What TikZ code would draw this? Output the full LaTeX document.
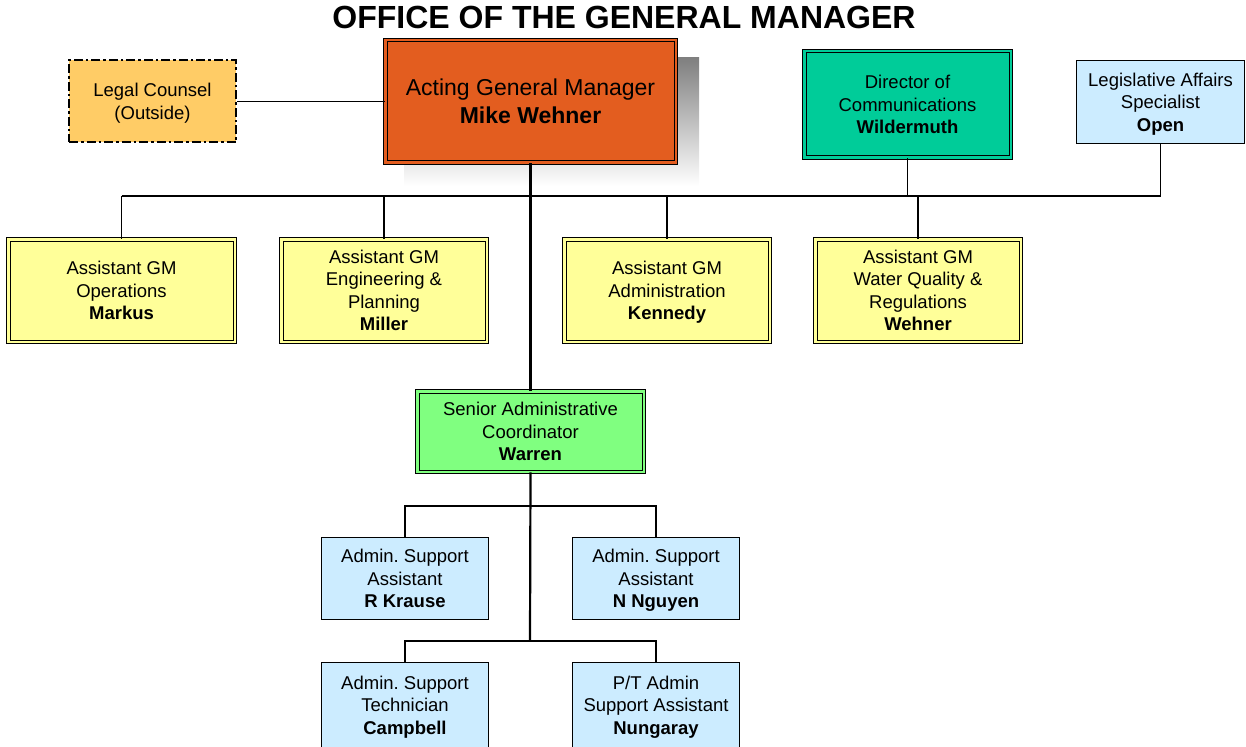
\documentclass[tikz,border=0pt]{standalone}
\usepackage{fontspec}
\setmainfont{Liberation Sans}
\frenchspacing
\definecolor{agmfill}{HTML}{E35D1F}
\definecolor{dirfill}{HTML}{00CC99}
\definecolor{legalfill}{HTML}{FFCC66}
\definecolor{agfill}{HTML}{FFFF99}
\definecolor{coordfill}{HTML}{80FF80}
\definecolor{staff}{HTML}{CCECFF}
\definecolor{shade}{HTML}{CCCCCC}
\tikzset{
  txt/.style={font=\fontsize{18.5}{22.5}\selectfont, align=center, inner sep=0pt, text depth=0pt},
  dbl/.style={txt, draw=black, line width=1pt, double distance=2.5pt, double=#1, fill=#1},
  single/.style={txt, draw=black, line width=1.3pt, fill=#1},
  link/.style={line width=1.3pt},
  trunk/.style={line width=2.2pt},
}
\begin{document}
\begin{tikzpicture}[x=1pt, y=-1pt]
\useasboundingbox (0,0) rectangle (1246,746);
\clip (0,0) rectangle (1246,746);

% title
\node[font=\fontsize{32}{36}\selectfont\bfseries, inner sep=0pt] (title) at (624,17) {OFFICE OF THE GENERAL MANAGER};

% shadow behind the general manager box
\fill[shade] (404,58) rectangle (699,186);

% top row
\node[dbl=agmfill, minimum width=290.5pt, minimum height=122.5pt,
      font=\fontsize{23}{28}\selectfont] (agm) at (530.5,101.5)
  {Acting General Manager\\\textbf{Mike Wehner}};
\node[txt, draw=black, line width=2pt, dash pattern=on 9pt off 3pt on 2.5pt off 3pt,
      fill=legalfill, minimum width=167pt, minimum height=82pt] (legal) at (152.5,101.5)
  {Legal Counsel\\(Outside)};
\node[dbl=dirfill, minimum width=206.5pt, minimum height=106.5pt] (dir) at (907.5,104.5)
  {Director of\\Communications\\\textbf{Wildermuth}};
\node[single=staff, minimum width=167.7pt, minimum height=82.7pt] (legis) at (1160.5,102)
  {Legislative Affairs\\Specialist\\\textbf{Open}};

% assistant general managers
\node[dbl=agfill, minimum width=226.5pt, minimum height=102.5pt] (ops) at (121.5,290.5)
  {Assistant GM\\Operations\\\textbf{Markus}};
\node[dbl=agfill, minimum width=205.5pt, minimum height=102.5pt] (eng) at (384,290.5)
  {Assistant GM\\Engineering \&\\Planning\\\textbf{Miller}};
\node[dbl=agfill, minimum width=205.5pt, minimum height=102.5pt] (adm) at (667,290.5)
  {Assistant GM\\Administration\\\textbf{Kennedy}};
\node[dbl=agfill, minimum width=205.5pt, minimum height=102.5pt] (wq) at (918,290.5)
  {Assistant GM\\Water Quality \&\\Regulations\\\textbf{Wehner}};

% coordinator
\node[dbl=coordfill, minimum width=226.5pt, minimum height=80.5pt] (sac) at (530.5,431.5)
  {Senior Administrative\\Coordinator\\\textbf{Warren}};

% support staff
\node[single=staff, minimum width=166.7pt, minimum height=81.7pt] (krause) at (405,578.5)
  {Admin. Support\\Assistant\\\textbf{R Krause}};
\node[single=staff, minimum width=166.7pt, minimum height=81.7pt] (nguyen) at (656,578.5)
  {Admin. Support\\Assistant\\\textbf{N Nguyen}};
\node[single=staff, minimum width=166.7pt, minimum height=84.7pt] (campbell) at (405,705)
  {Admin. Support\\Technician\\\textbf{Campbell}};
\node[single=staff, minimum width=166.7pt, minimum height=84.7pt] (nungaray) at (656,705)
  {P/T Admin\\Support Assistant\\\textbf{Nungaray}};

% junction points of the connectors
\coordinate (bar) at (530,196);
\coordinate (bar2) at (530,506);
\coordinate (bar3) at (530,641);

% connectors
\draw[link] (legal.east) -- (legal.east -| agm.west);
\draw[trunk] (agm.south) -- (sac.north);
\draw[trunk] (ops.north |- bar) -- (dir.south |- bar);
\draw[link] (dir.south |- bar) -- (legis.south |- bar) -- (legis.south);
\draw[link] (dir.south) -- (dir.south |- bar);
\draw[link] (ops.north) -- (ops.north |- bar);
\draw[link] (eng.north) -- (eng.north |- bar);
\draw[link] (adm.north) -- (adm.north |- bar);
\draw[link] (wq.north) -- (wq.north |- bar);

\draw[trunk] (sac.south) -- (bar3);
\draw[link] (krause.north) -- (krause.north |- bar2) -- (nguyen.north |- bar2) -- (nguyen.north);
\draw[link] (campbell.north) -- (campbell.north |- bar3) -- (nungaray.north |- bar3) -- (nungaray.north);
\end{tikzpicture}
\end{document}
